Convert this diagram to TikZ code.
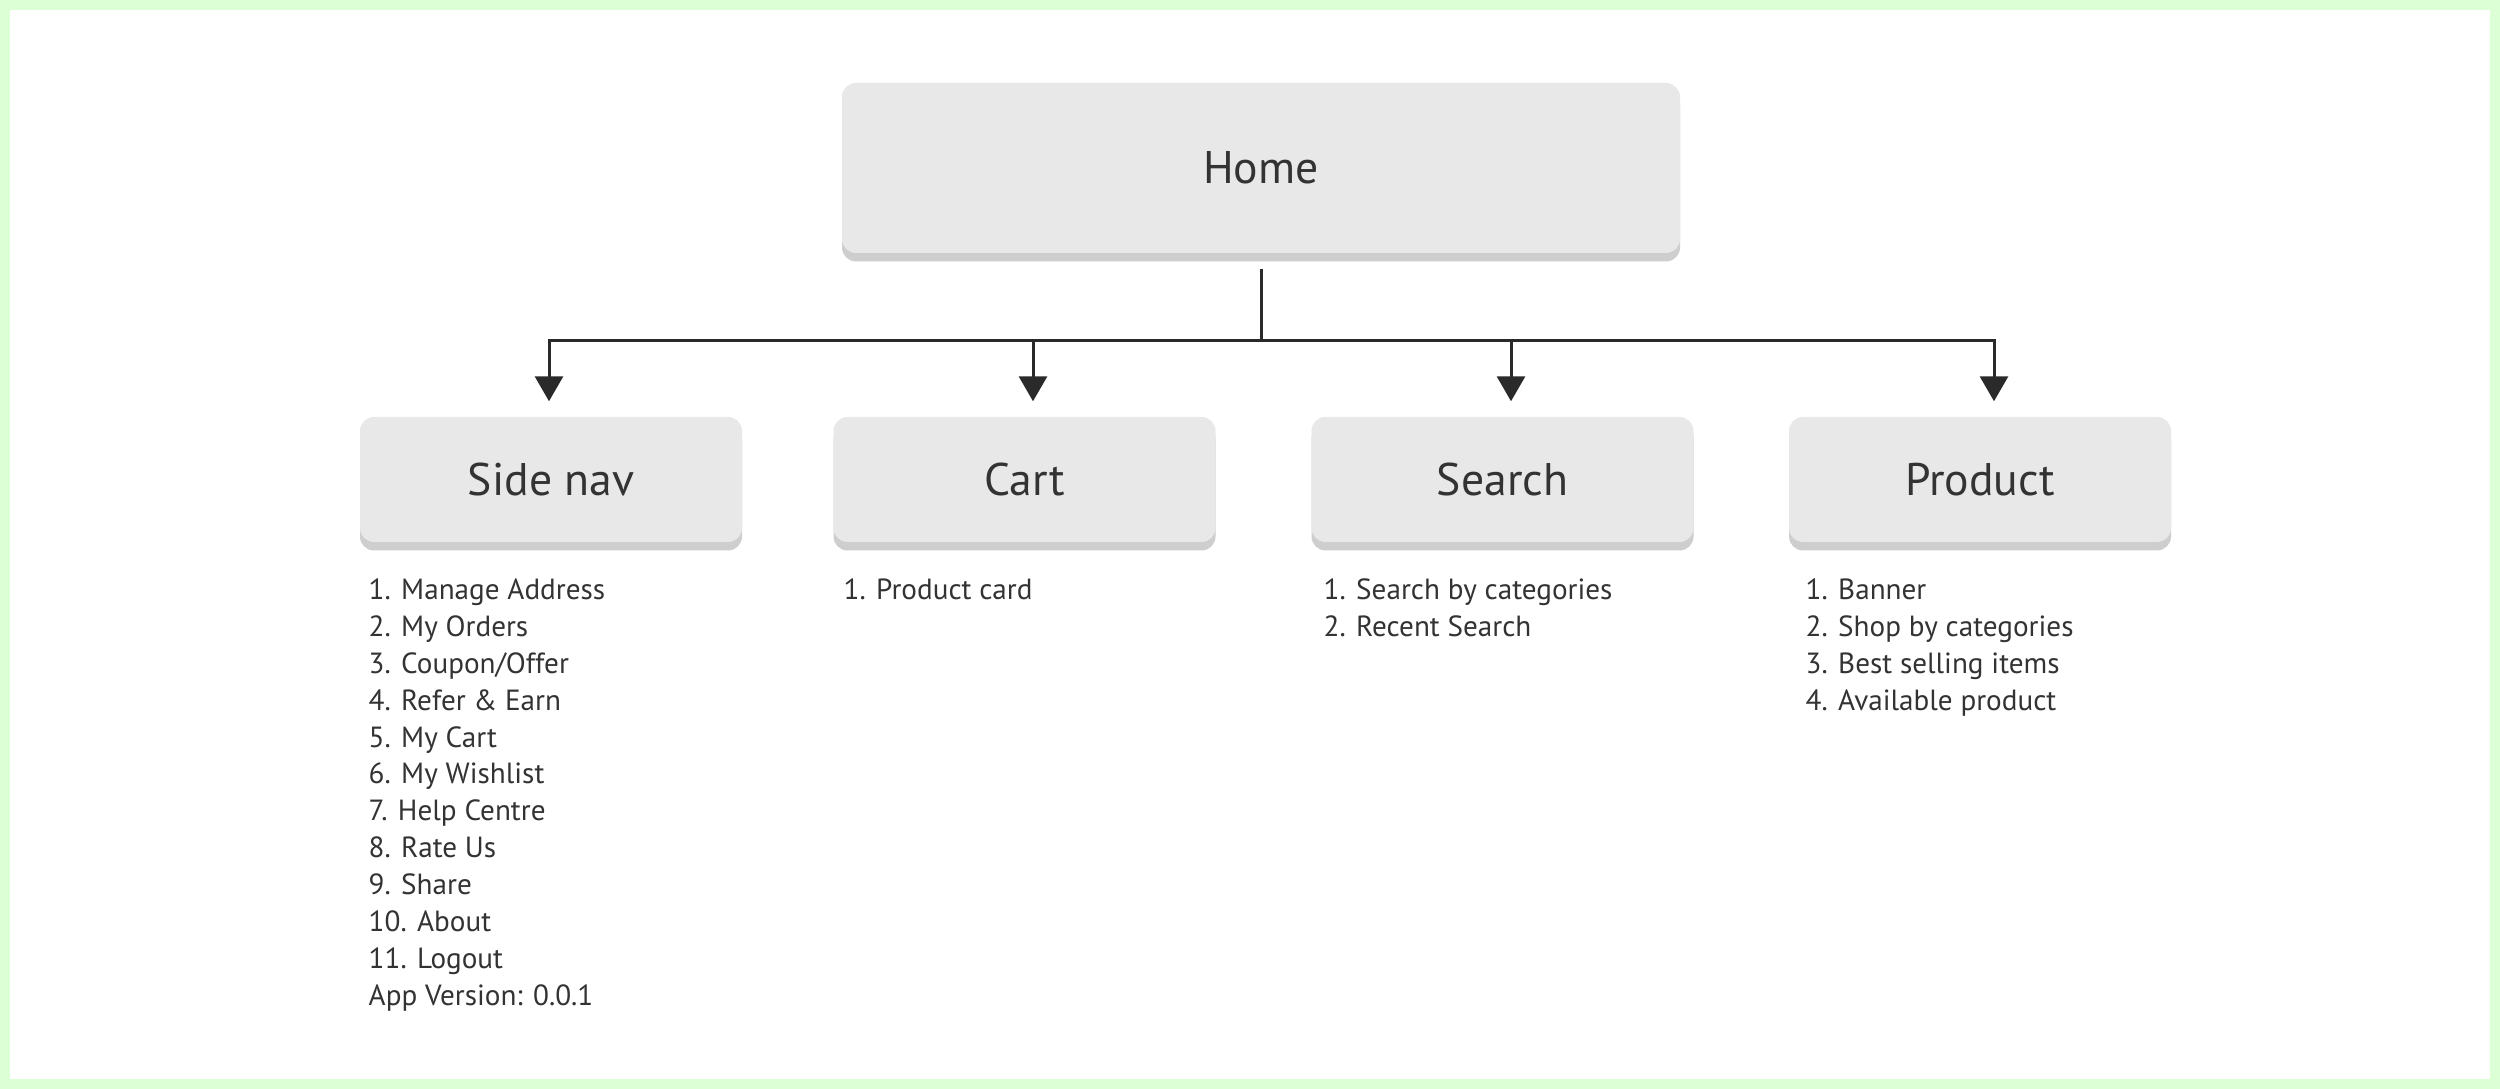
\documentclass[tikz,border=0pt]{standalone}
\usepackage{fontspec}
\setmainfont{PT Sans}
\usetikzlibrary{shapes, arrows.meta, positioning, shadows}
\definecolor{bordergreen}{RGB}{221,255,214}
\definecolor{boxgray}{RGB}{232,232,232}
\definecolor{shadegray}{RGB}{206,206,206}
\definecolor{linegray}{RGB}{42,42,42}
\definecolor{textgray}{RGB}{51,51,51}
\tikzstyle{box} = [rectangle, rounded corners=0.14cm, fill=boxgray, text=textgray, minimum width=3.82cm, minimum height=1.25cm, font=\fontsize{13}{15}\selectfont, drop shadow={shadow xshift=0cm, shadow yshift=-0.085cm, fill=shadegray, opacity=1}]
\tikzstyle{list} = [anchor=north west, inner sep=0pt, align=left, text=textgray, font=\fontsize{8.3}{10.5}\selectfont]
\tikzstyle{line} = [draw=linegray, line width=0.03cm]
\tikzstyle{arrow} = [line, -{Triangle[width=0.28cm, length=0.25cm]}, shorten >=0.15cm]

\begin{document}
\begin{tikzpicture}
			\useasboundingbox (0,0) rectangle (25,10.89);
			\fill [bordergreen] (0,0) rectangle (25,10.89);
			\fill [white] (0.1,0.1) rectangle (24.9,10.79);

			\node [box, minimum width=8.38cm, minimum height=1.70cm] (home) at (12.61, 9.21) {Home};
			\node [box] (sidenav) at (5.51, 6.095) {Side nav};
			\node [box] (cart) at (10.245, 6.095) {Cart};
			\node [box] (search) at (15.025, 6.095) {Search};
			\node [box] (product) at (19.80, 6.095) {Product};
			\coordinate (fork) at (12.61, 7.48);

			\path [line, shorten <=0.15cm] (home.south) -- (fork);
			\path [arrow] (fork) -| ([xshift=-0.02cm]sidenav.north);
			\path [arrow] (fork) -| ([xshift=0.085cm]cart.north);
			\path [arrow] (fork) -| ([xshift=0.085cm]search.north);
			\path [arrow] (fork) -| ([xshift=0.14cm]product.north);

			\node [list] (sidenavlist) at (3.68, 5.11) {1. Manage Address\\ 2. My Orders\\ 3. Coupon/Offer\\ 4. Refer \& Earn\\ 5. My Cart\\ 6. My Wishlist\\ 7. Help Centre\\ 8. Rate Us\\ 9. Share\\ 10. About\\ 11. Logout\\ App Version: 0.0.1};
			\node [list] (cartlist) at (8.43, 5.11) {1. Product card};
			\node [list] (searchlist) at (13.23, 5.11) {1. Search by categories\\ 2. Recent Search};
			\node [list] (productlist) at (18.05, 5.11) {1. Banner\\ 2. Shop by categories\\ 3. Best selling items\\ 4. Available product};
		\end{tikzpicture}
\end{document}
